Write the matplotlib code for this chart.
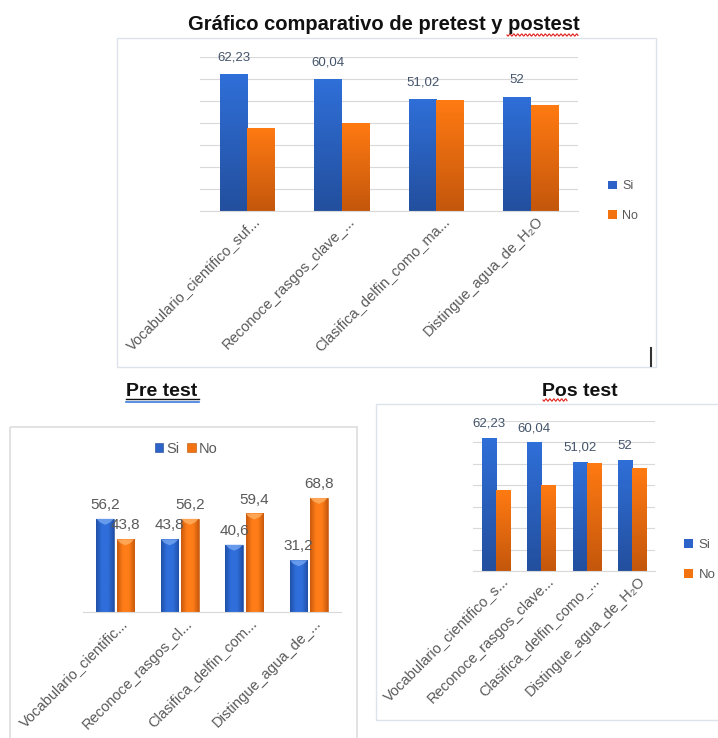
import numpy as np
import matplotlib
matplotlib.use('Agg')
import matplotlib.pyplot as plt
import matplotlib.transforms as mtransforms
from matplotlib.colors import LinearSegmentedColormap
from matplotlib.patches import Rectangle, Polygon

plt.rcParams['font.family'] = ['Liberation Sans', 'DejaVu Sans']

W, H = 718, 738

# --- datos ---
series = ['Si', 'No']

post_ticks_big = ['Vocabulario_cientifico_suf...', 'Reconoce_rasgos_clave_...',
                  'Clasifica_delfin_como_ma...', 'Distingue_agua_de_H\u2082O']
post_ticks_small = ['Vocabulario_cientifico_s...', 'Reconoce_rasgos_clave...',
                    'Clasifica_delfin_como_...', 'Distingue_agua_de_H\u2082O']
post_si = [62.23, 60.04, 51.02, 52]
post_no = [37.8, 40.0, 50.3, 48.0]

pre_ticks = ['Vocabulario_cientific...', 'Reconoce_rasgos_cl...',
             'Clasifica_delfin_com...', 'Distingue_agua_de_...']
pre_si = [56.2, 43.8, 40.6, 31.2]
pre_no = [43.8, 56.2, 59.4, 68.8]

BLUE, ORANGE = '#2d63c9', '#f2730f'
GRID = '#d9d9d9'
TXT = '#595959'
LBL = '#44546a'


def fmt(v):
    return f'{v:g}'.replace('.', ',')


fig = plt.figure(figsize=(W / 100, H / 100), dpi=100)

# capa de fondo en pixeles para marcos y titulos
bg = fig.add_axes([0, 0, 1, 1])
bg.set_xlim(0, W)
bg.set_ylim(H, 0)
bg.axis('off')


def px_axes(l, t, r, b):
    return fig.add_axes([l / W, 1 - b / H, (r - l) / W, (b - t) / H])


def wavy(x0, x1, y):
    xs = np.linspace(x0, x1, 120)
    bg.plot(xs, y + 1.1 * np.sin((xs - x0) * 1.6), color='#e0201b', lw=0.8)


def vgrad(ax, bars, top, bottom):
    cmap = LinearSegmentedColormap.from_list('v', [top, bottom])
    g = np.linspace(0, 1, 100).reshape(-1, 1)
    for b in bars:
        x0, y0 = b.get_x(), b.get_y()
        im = ax.imshow(g, cmap=cmap, origin='upper', aspect='auto', zorder=2.5,
                       extent=(x0, x0 + b.get_width(), y0, y0 + b.get_height()))
        im.set_clip_path(b)


def hgrad(ax, bars, edge, mid, cap):
    cmap = LinearSegmentedColormap.from_list('h', [edge, mid, mid, edge])
    g = np.linspace(0, 1, 100).reshape(1, -1)
    for b in bars:
        x0, y0 = b.get_x(), b.get_y()
        w, h = b.get_width(), b.get_height()
        im = ax.imshow(g, cmap=cmap, origin='upper', aspect='auto', zorder=2.5,
                       extent=(x0, x0 + w, y0, y0 + h))
        im.set_clip_path(b)
        # bisel claro en la parte superior
        ax.add_patch(Polygon([(x0, h), (x0 + w, h), (x0 + w * 0.8, h - 2.2),
                              (x0 + w * 0.5, h - 3.6), (x0 + w * 0.2, h - 2.2)],
                             closed=True, fc=cap, ec='none', alpha=0.75, zorder=2.6))


def style_axes(ax, ticks, ymax, tick_fs=10.5, pad=3, shift=(4, 1)):
    ax.set_xlim(-0.5, len(ticks) - 0.5)
    ax.set_ylim(0, ymax)
    ax.set_xticks(range(len(ticks)))
    ax.set_xticklabels(ticks, rotation=45, ha='right', rotation_mode='anchor',
                       fontsize=tick_fs, color=TXT)
    ax.tick_params(axis='x', length=0, pad=pad)
    # etiquetas un poco a la derecha del centro de la categoria
    off = mtransforms.ScaledTranslation(shift[0] / 72, shift[1] / 72, fig.dpi_scale_trans)
    for lab in ax.get_xticklabels():
        lab.set_transform(lab.get_transform() + off)
    ax.tick_params(axis='y', left=False, labelleft=False)
    for s in ['left', 'right', 'top']:
        ax.spines[s].set_visible(False)
    ax.spines['bottom'].set_color(GRID)
    ax.set_facecolor('none')
    ax.set_axisbelow(True)


def post_chart(ax, ticks, width, lbl_fs, lbl_off):
    x = np.arange(len(ticks))
    b_si = ax.bar(x - width / 2, post_si, width, color=BLUE, zorder=2, label=series[0])
    b_no = ax.bar(x + width / 2, post_no, width, color=ORANGE, zorder=2, label=series[1])
    vgrad(ax, b_si, '#2f6fd8', '#234f9e')
    vgrad(ax, b_no, '#ff7a12', '#c4570c')
    for b, v in zip(b_si, post_si):
        ax.annotate(fmt(v), (b.get_x() + b.get_width() / 2, v), xytext=(0, lbl_off),
                    textcoords='offset points', ha='center', va='center',
                    fontsize=lbl_fs, color=LBL)
    style_axes(ax, ticks, 70)
    ax.set_yticks(np.arange(0, 71, 10))
    ax.grid(axis='y', color=GRID, lw=0.8)
    return b_si, b_no


# --- grafico comparativo (arriba) ---
bg.add_patch(Rectangle((117, 38), 539, 329, fill=False, ec='#dde3ea', lw=1))
bg.text(384, 25, 'Gr\u00e1fico comparativo de pretest y postest', ha='center',
        va='center', fontsize=14.5, fontweight='bold', color='#111111')
wavy(507, 578, 35)
bg.plot([651, 651], [348, 366], color='#333333', lw=1.5)

ax1 = px_axes(200, 57, 578, 211)
h1 = post_chart(ax1, post_ticks_big, 0.29, 9.5, 12)
ax1.legend(h1, series, loc='center left', bbox_to_anchor=(597 / W, 1 - 201 / H),
           bbox_transform=fig.transFigure, frameon=False, fontsize=9,
           labelcolor=TXT, handlelength=0.7, handleheight=0.7, handletextpad=0.4,
           labelspacing=1.4)

# --- pre test (abajo izquierda) ---
bg.add_patch(Rectangle((10, 427), 347, 330, fill=False, ec='#dddddd', lw=1.2))
bg.text(162, 391, 'Pre test', ha='center', va='center', fontsize=14,
        fontweight='bold', color='#111111')
bg.plot([126, 199], [399, 399], color='#111111', lw=1)
bg.plot([126, 199], [402, 402], color='#3a7be0', lw=1.2)

ax2 = px_axes(83, 471, 341, 612)
x = np.arange(len(pre_ticks))
w2 = 0.27
p_si = ax2.bar(x - 0.157, pre_si, w2, color=BLUE, zorder=2, ec='#1c448c', lw=0.4)
p_no = ax2.bar(x + 0.157, pre_no, w2, color=ORANGE, zorder=2, ec='#b4500c', lw=0.4)
hgrad(ax2, p_si, '#2150a8', '#2f6edb', '#7aaaf2')
hgrad(ax2, p_no, '#c9590d', '#ff7d18', '#ffb56a')
for bars, vals in [(p_si, pre_si), (p_no, pre_no)]:
    for b, v in zip(bars, vals):
        ax2.annotate(fmt(v), (b.get_x() + b.get_width() / 2, v), xytext=(0, 10),
                     textcoords='offset points', ha='center', va='center',
                     fontsize=11, color=TXT)
style_axes(ax2, pre_ticks, 85, pad=4, shift=(4, 1))
ax2.legend([p_si, p_no], series, loc='center', bbox_to_anchor=(186 / W, 1 - 449 / H),
           bbox_transform=fig.transFigure, frameon=False, fontsize=10.5, ncol=2,
           labelcolor=TXT, handlelength=0.6, handleheight=0.6, handletextpad=0.2,
           columnspacing=0.5)

# --- pos test (abajo derecha) ---
bg.add_patch(Rectangle((376, 404), 360, 316, fill=False, ec='#dde3ea', lw=1))
bg.text(580, 391, 'Pos test', ha='center', va='center', fontsize=14,
        fontweight='bold', color='#111111')
wavy(543, 567, 400)

ax3 = px_axes(473, 421, 655, 571)
h3 = post_chart(ax3, post_ticks_small, 0.31, 9.5, 10)
ax3.legend(h3, series, loc='center left', bbox_to_anchor=(672 / W, 1 - 560 / H),
           bbox_transform=fig.transFigure, frameon=False, fontsize=9.5,
           labelcolor=TXT, handlelength=0.7, handleheight=0.7, handletextpad=0.4,
           labelspacing=1.4)

fig.savefig('out.png', dpi=100, facecolor='white')
